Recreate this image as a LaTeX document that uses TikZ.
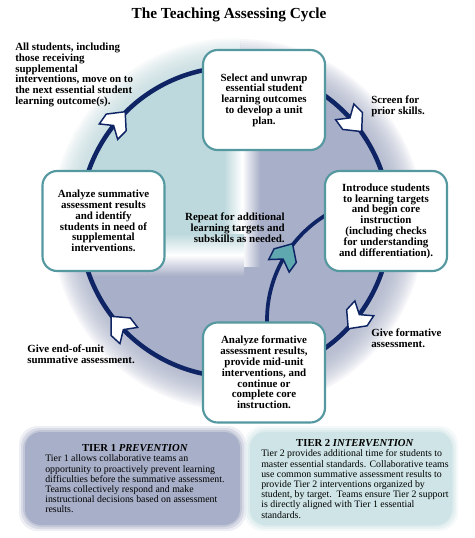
\documentclass[tikz,border=0pt]{standalone}
\usepackage{fontspec}
\setmainfont{Liberation Serif}
\usetikzlibrary{positioning,decorations.markings}

\definecolor{ringblue}{RGB}{14,36,100}
\definecolor{boxteal}{RGB}{84,152,160}
\definecolor{greyblue}{RGB}{168,175,200}
\definecolor{paleteal}{RGB}{190,217,221}
\definecolor{tiertwo}{RGB}{206,228,230}
\definecolor{tipteal}{RGB}{96,168,176}

\tikzset{
  stepbox/.style={draw=boxteal, line width=1.6pt, fill=white, rounded corners=11pt,
    minimum width=91.5pt, minimum height=75pt, align=center, inner sep=2pt,
    font=\bfseries\fontsize{8.2}{8.1}\selectfont},
  note/.style={inner sep=0pt, font=\bfseries\fontsize{8.2}{8.1}\selectfont},
  tiertext/.style={inner sep=0pt, align=left, font=\fontsize{7.4}{7.65}\selectfont},
  tierhead/.style={inner sep=0pt, font=\bfseries\fontsize{8}{8}\selectfont},
  ring/.style={draw=ringblue, line width=3.4pt},
  headshape/.style={draw=ringblue, line width=1.1pt, line join=miter}
}
\newcommand{\fathead}[1]{\path[headshape, fill=#1] (14,0) -- (0,13) -- (-12,12) -- (-4,0) -- (-12,-12) -- (0,-13) -- cycle;}

\begin{document}
\begin{tikzpicture}[x=0.75pt, y=0.75pt]
  \useasboundingbox (0,0) rectangle (474,-538);
  \fill[white] (0,0) rectangle (474,-538);
  \coordinate (cyc) at (235,-222);
  \coordinate (rep) at (390,-320);

  % glow round the cycle
  \begin{scope}[even odd rule]
    \clip (0,0) rectangle (474,-538) (30,-30) rectangle (240,-252);
    \foreach \r in {186,184,...,158}
      \fill[greyblue, opacity=.09] ([shift={(3,-3)}]cyc) circle[radius=\r];
    \fill[greyblue] (cyc) circle[radius=157];
  \end{scope}
  \begin{scope}
    \clip (30,-30) rectangle (240,-252);
    \foreach \r in {184,182,...,158}
      \fill[paleteal, opacity=.09] (cyc) circle[radius=\r];
    \fill[paleteal] (cyc) circle[radius=157];
  \end{scope}
  % soft white seams
  \begin{scope}
    \clip (cyc) circle[radius=157];
    \shade[left color=paleteal, right color=greyblue, middle color=white] (224,-60) rectangle (260,-266);
    \shade[top color=paleteal, bottom color=greyblue, middle color=white] (70,-234) rectangle (244,-276);
  \end{scope}

  % the cycle
  \draw[ring, postaction={decorate}, decoration={markings,
      mark=at position 0.111 with {\fathead{white}},
      mark=at position 0.387 with {\fathead{white}},
      mark=at position 0.606 with {\fathead{white}},
      mark=at position 0.882 with {\fathead{white}}}]
    ([shift={(180:155)}]cyc) arc[start angle=180, end angle=-180, radius=155];
  \draw[ring, line width=2.8pt, postaction={decorate}, decoration={markings,
      mark=at position 0.54 with {\fathead{tipteal}}}]
    ([shift={(183:123)}]rep) arc[start angle=183, end angle=119, radius=123];

  % steps
  \node[stepbox] (plan) at (264,-100) {Select and unwrap\\essential student\\learning outcomes\\to develop a unit\\plan.};
  \node[stepbox] (intro) at (386,-221) {Introduce students\\to learning targets\\and begin core\\instruction\\(including checks\\for understanding\\and differentiation).};
  \node[stepbox] (formative) at (264,-372.5) {Analyze formative\\assessment results,\\provide mid-unit\\interventions, and\\continue or\\complete core\\instruction.};
  \node[stepbox] (summative) at (103.5,-221) {Analyze summative\\assessment results\\and identify\\students in need of\\supplemental\\interventions.};

  % notes
  \node[font=\bfseries\fontsize{11.5}{12}\selectfont] (title) at (229,-15) {The Teaching Assessing Cycle};
  \node[note, align=left, anchor=west] (moveon) at (15,-75) {All students, including\\those receiving\\supplemental\\interventions, move on to\\the next essential student\\learning outcome(s).};
  \node[note, align=left, anchor=west] (screen) at (371,-106) {Screen for\\prior skills.};
  \node[note, align=right, anchor=east] (repeat) at (285,-228) {Repeat for additional\\learning targets and\\subskills as needed.};
  \node[note, align=left, anchor=west] (giveform) at (371,-338.5) {Give formative\\assessment.};
  \node[note, align=left, anchor=west] (givesum) at (27,-354.5) {Give end-of-unit\\summative assessment.};

  % tiers
  \foreach \g/\o in {6/.2,4/.3,2/.45}{
    \fill[greyblue, opacity=\o, rounded corners=14pt] ({25-\g},{-432+\g}) rectangle ({240+\g},{-525-\g});
    \fill[tiertwo, opacity=\o, rounded corners=14pt] ({250-\g},{-432+\g}) rectangle ({452+\g},{-525-\g});
  }
  \fill[greyblue, rounded corners=12pt] (25,-432) rectangle (240,-525);
  \fill[tiertwo, rounded corners=12pt] (250,-432) rectangle (452,-525);
  \node[tiertext, anchor=west] (t1body) at (45,-484) {Tier 1 allows collaborative teams an\\opportunity to proactively prevent learning\\difficulties before the summative assessment.\\Teams collectively respond and make\\instructional decisions based on assessment\\results.};
  \node[tierhead, above=2pt of t1body] (t1head) {TIER 1 \textit{PREVENTION}};
  \node[tiertext, anchor=west] (t2body) at (261,-484) {Tier 2 provides additional time for students to\\master essential standards. Collaborative teams\\use common summative assessment results to\\provide Tier 2 interventions organized by\\student, by target.\ \ Teams ensure Tier 2 support\\is directly aligned with Tier 1 essential\\standards.};
  \node[tierhead, above=2pt of t2body] (t2head) {TIER 2 \textit{INTERVENTION}};
\end{tikzpicture}
\end{document}
